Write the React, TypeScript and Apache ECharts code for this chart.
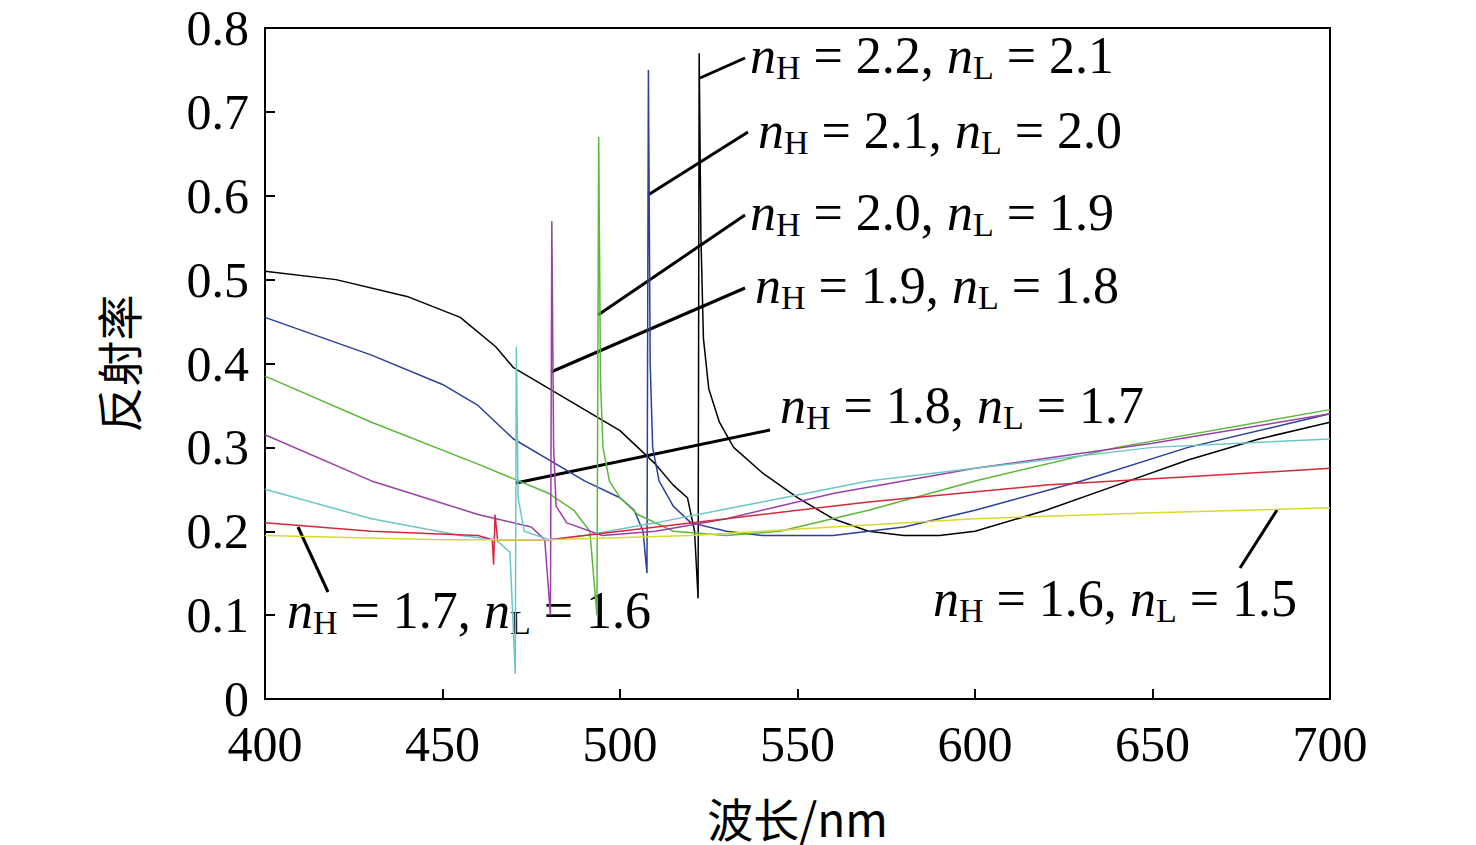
import React, { useEffect, useRef } from 'react';
import * as echarts from 'echarts';

// wavelength (nm) / reflectance pairs per curve
const black: number[][] = [[400,0.51],[420,0.50],[440,0.48],[455,0.455],[465,0.42],[470,0.395],[480,0.37],[490,0.345],[500,0.32],[510,0.28],[515,0.255],[519,0.24],[521,0.2],[522,0.12],[522.3,0.77],[522.8,0.55],[523.5,0.43],[525,0.37],[528,0.33],[532,0.3],[540,0.27],[550,0.24],[560,0.215],[570,0.2],[580,0.195],[590,0.195],[600,0.2],[620,0.225],[640,0.255],[660,0.285],[680,0.31],[700,0.33]];
const blue: number[][] = [[400,0.455],[430,0.41],[450,0.375],[460,0.35],[470,0.31],[480,0.285],[490,0.26],[500,0.24],[504,0.225],[506.5,0.2],[507.6,0.15],[508,0.75],[508.5,0.4],[509.2,0.3],[511,0.26],[515,0.23],[520,0.21],[530,0.2],[540,0.195],[560,0.195],[580,0.205],[600,0.225],[630,0.26],[660,0.3],[700,0.34]];
const green: number[][] = [[400,0.385],[430,0.33],[460,0.28],[480,0.245],[487,0.225],[491.5,0.2],[493.5,0.1],[494,0.67],[494.5,0.38],[495.2,0.3],[497,0.26],[500,0.24],[505,0.22],[515,0.2],[530,0.195],[545,0.2],[570,0.225],[600,0.26],[640,0.3],[700,0.345]];
const purple: number[][] = [[400,0.315],[430,0.26],[460,0.22],[475,0.205],[478.8,0.19],[480.4,0.1],[480.8,0.57],[481.3,0.3],[482,0.23],[485,0.21],[495,0.195],[510,0.2],[530,0.215],[560,0.245],[600,0.275],[650,0.305],[700,0.34]];
const cyan: number[][] = [[400,0.25],[430,0.215],[455,0.195],[465,0.19],[469,0.175],[470.5,0.03],[470.8,0.42],[471.3,0.24],[473,0.2],[480,0.19],[490,0.195],[510,0.21],[540,0.235],[570,0.26],[600,0.275],[650,0.3],[700,0.31]];
const red: number[][] = [[400,0.21],[430,0.2],[460,0.195],[464,0.19],[464.4,0.16],[464.8,0.22],[465.5,0.19],[480,0.19],[500,0.2],[530,0.215],[570,0.235],[620,0.255],[660,0.265],[700,0.275]];
const yellow: number[][] = [[400,0.195],[450,0.19],[480,0.19],[520,0.195],[560,0.205],[600,0.215],[650,0.222],[700,0.228]];

const seriesList = [
  { name: '2.2/2.1', data: black, color: '#000000' },
  { name: '2.1/2.0', data: blue, color: '#2b3f9c' },
  { name: '2.0/1.9', data: green, color: '#5cb83a' },
  { name: '1.9/1.8', data: purple, color: '#9b3fa8' },
  { name: '1.8/1.7', data: cyan, color: '#6cc6c6' },
  { name: '1.7/1.6', data: red, color: '#d6283c' },
  { name: '1.6/1.5', data: yellow, color: '#d8d830' },
];

// label text values, position and leader line
const annotations = [
  { h: '2.2', l: '2.1', x: 750, y: 55, line: [700, 78, 745, 58] },
  { h: '2.1', l: '2.0', x: 758, y: 130, line: [648, 195, 748, 132] },
  { h: '2.0', l: '1.9', x: 750, y: 212, line: [598, 315, 745, 215] },
  { h: '1.9', l: '1.8', x: 755, y: 285, line: [551, 372, 745, 288] },
  { h: '1.8', l: '1.7', x: 780, y: 405, line: [516, 483, 770, 430] },
  { h: '1.7', l: '1.6', x: 287, y: 610, line: [298, 527, 328, 592] },
  { h: '1.6', l: '1.5', x: 933, y: 598, line: [1240, 568, 1277, 510] },
];

const FONT = 'Liberation Serif';

const App: React.FC = () => {
  const ref = useRef<HTMLDivElement>(null);

  useEffect(() => {
    if (!ref.current) return;
    const chart = echarts.init(ref.current, undefined, { renderer: 'svg' });
    const graphics: any[] = [];
    annotations.forEach((a) => {
      graphics.push({
        type: 'line',
        shape: { x1: a.line[0], y1: a.line[1], x2: a.line[2], y2: a.line[3] },
        style: { stroke: '#000', lineWidth: 3 },
      });
      graphics.push({
        type: 'text',
        x: a.x,
        y: a.y,
        style: {
          text: `{n|n}{s|H}{t| = ${a.h}, }{n|n}{s|L}{t| = ${a.l}}`,
          verticalAlign: 'middle',
          rich: {
            n: { fontFamily: FONT, fontSize: 52, fontStyle: 'italic', fill: '#000' },
            t: { fontFamily: FONT, fontSize: 52, fill: '#000' },
            s: { fontFamily: FONT, fontSize: 34, fill: '#000', padding: [24, 0, 0, 0] },
          },
        },
      });
    });

    chart.setOption({
      animation: false,
      grid: { left: 265, right: 146, top: 28, bottom: 145, show: true, borderColor: '#000', borderWidth: 2 },
      xAxis: {
        type: 'value', min: 400, max: 700, interval: 50,
        name: '波长/nm', nameLocation: 'middle', nameGap: 95,
        nameTextStyle: { fontFamily: 'Noto Sans CJK SC', fontSize: 46, color: '#000' },
        axisLine: { lineStyle: { color: '#000', width: 2 } },
        axisTick: { inside: true, length: 10, lineStyle: { color: '#000', width: 2 } },
        axisLabel: { fontFamily: FONT, fontSize: 50, color: '#000', margin: 20 },
        splitLine: { show: false },
      },
      yAxis: {
        type: 'value', min: 0, max: 0.8, interval: 0.1,
        name: '反射率', nameLocation: 'middle', nameGap: 125,
        nameTextStyle: { fontFamily: 'Noto Sans CJK SC', fontSize: 46, color: '#000' },
        axisLine: { show: true, lineStyle: { color: '#000', width: 2 } },
        axisTick: { show: true, inside: true, length: 10, lineStyle: { color: '#000', width: 2 } },
        axisLabel: { fontFamily: FONT, fontSize: 50, color: '#000', margin: 16, formatter: (v: number) => (v === 0 ? '0' : v.toFixed(1)) },
        splitLine: { show: false },
      },
      series: seriesList.map((s) => ({
        name: s.name, type: 'line', data: s.data, showSymbol: false,
        lineStyle: { color: s.color, width: 1.5 }, z: 2,
      })),
      graphic: graphics,
    });
    return () => chart.dispose();
  }, []);

  return <div ref={ref} style={{ position: 'absolute', left: 0, top: 0, width: 1476, height: 845, background: '#fff' }} />;
};

export default App;
